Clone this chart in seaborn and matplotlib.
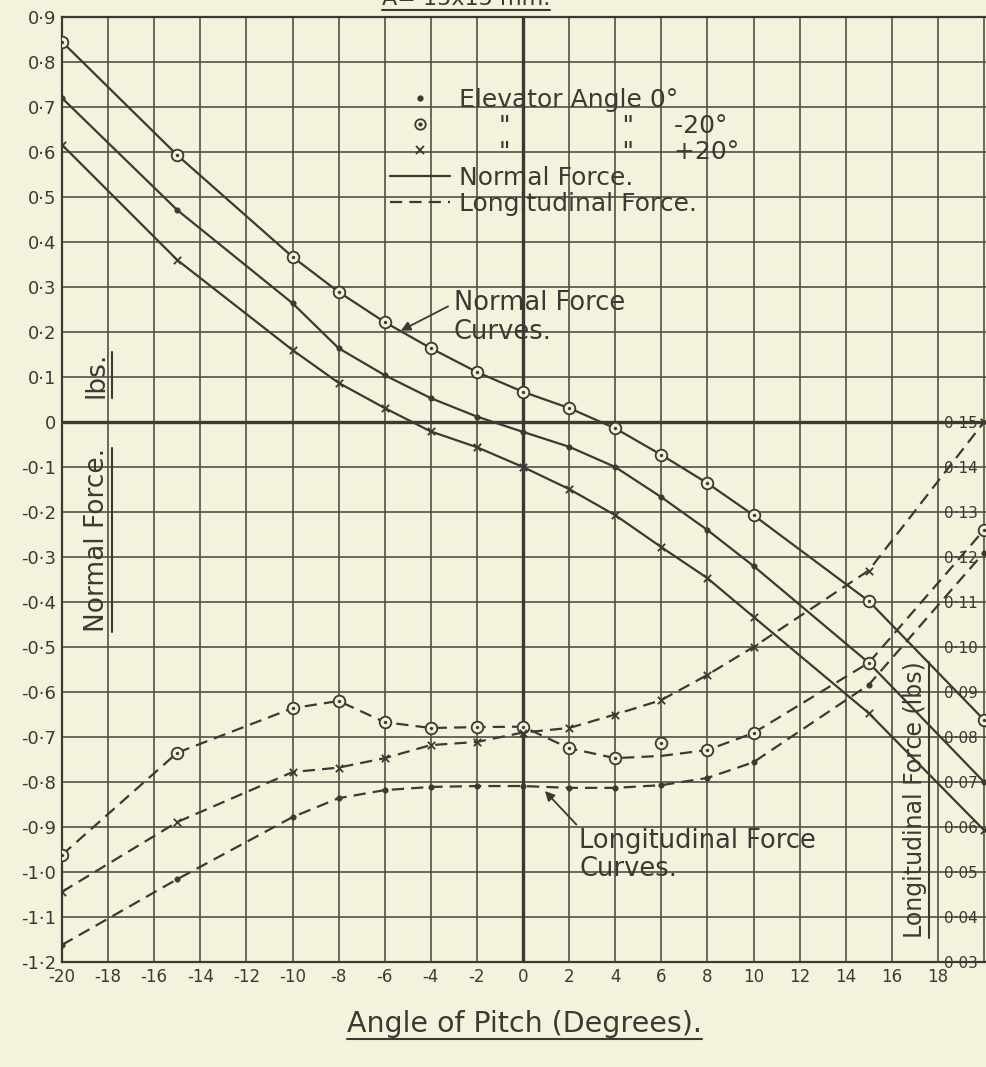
import numpy as np
import pandas as pd
import matplotlib.pyplot as plt
import seaborn as sns
from matplotlib.lines import Line2D

pitch = [-20, -15, -10, -8, -6, -4, -2, 0, 2, 4, 6, 8, 10, 15, 20]

# normal force (lbs) for each elevator angle
normal_0 = [0.72, 0.471, 0.264, 0.164, 0.104, 0.053, 0.012, -0.022, -0.055,
            -0.10, -0.167, -0.24, -0.32, -0.535, -0.80]
normal_m20 = [0.845, 0.593, 0.367, 0.289, 0.222, 0.164, 0.111, 0.067, 0.031,
              -0.014, -0.073, -0.136, -0.207, -0.398, -0.662]
normal_p20 = [0.616, 0.36, 0.16, 0.087, 0.031, -0.021, -0.056, -0.10, -0.149,
              -0.207, -0.278, -0.347, -0.433, -0.647, -0.907]

# longitudinal force (lbs, right hand scale)
long_0 = [0.0338, 0.0484, 0.0622, 0.0664, 0.0682, 0.0689, 0.0691, 0.0691,
          0.0687, 0.0687, 0.0693, 0.0709, 0.0744, 0.0916, 0.121]
long_m20 = [0.0538, 0.0765, 0.0864, 0.0880, 0.0833, 0.0820, 0.0822, 0.0823,
            0.0775, 0.0753, 0.0787, 0.0771, 0.0809, 0.0965, 0.126]
# the faired curve for -20 deg misses the +6 deg point
long_m20_curve = [0.0538, 0.0765, 0.0864, 0.0880, 0.0833, 0.0820, 0.0822, 0.0823,
                  0.0775, 0.0753, 0.0758, 0.0771, 0.0809, 0.0965, 0.126]
long_p20 = [0.0456, 0.0611, 0.0722, 0.0732, 0.0753, 0.0782, 0.0789, 0.081,
            0.082, 0.085, 0.0882, 0.0938, 0.100, 0.117, 0.150]

# tick labels
x_ticks = [-20, -18, -16, -14, -12, -10, -8, -6, -4, -2, 0, 2, 4, 6, 8, 10, 12, 14, 16, 18, 20]
x_tick_labels = ['-20', '-18', '-16', '-14', '-12', '-10', '-8', '-6', '-4', '-2', '0',
                 '2', '4', '6', '8', '10', '12', '14', '16', '18', '']
y_ticks = [0.9, 0.8, 0.7, 0.6, 0.5, 0.4, 0.3, 0.2, 0.1, 0.0, -0.1, -0.2, -0.3, -0.4,
           -0.5, -0.6, -0.7, -0.8, -0.9, -1.0, -1.1, -1.2]
y_tick_labels = ['0·9', '0·8', '0·7', '0·6', '0·5', '0·4', '0·3', '0·2', '0·1', '0',
                 '-0·1', '-0·2', '-0·3', '-0·4', '-0·5', '-0·6', '-0·7', '-0·8', '-0·9',
                 '-1·0', '-1·1', '-1·2']
long_ticks = [0.15, 0.14, 0.13, 0.12, 0.11, 0.10, 0.09, 0.08, 0.07, 0.06, 0.05, 0.04, 0.03]
long_tick_labels = ['0·15', '0·14', '0·13', '0·12', '0·11', '0·10', '0·09', '0·08',
                    '0·07', '0·06', '0·05', '0·04', '0·03']

paper = '#f4f2dc'
ink = '#3a3a33'
grid_ink = '#505048'
dash = (0, (5.5, 3.2))

sns.set_theme(style='white', rc={'axes.facecolor': paper, 'figure.facecolor': paper})
plt.rcParams['font.family'] = ['DejaVu Sans']

fig = plt.figure(figsize=(9.87, 10.67), dpi=100)
ax = fig.add_axes([62 / 987, 105 / 1067, 925 / 987, 945 / 1067])
ax.set_xlim(-20, 20.13)
ax.set_ylim(-1.2, 0.9)

ax.set_xticks(x_ticks)
ax.set_xticklabels(x_tick_labels, fontsize=12, color=ink)
ax.set_yticks(y_ticks)
ax.set_yticklabels(y_tick_labels, fontsize=13, color=ink)
ax.tick_params(length=0, pad=4)
ax.grid(True, color=grid_ink, lw=1.2)
ax.set_axisbelow(True)
ax.axhline(0, color=ink, lw=2.4, zorder=1.5)
ax.axvline(0, color=ink, lw=2.4, zorder=1.5)
for side in ['left', 'bottom', 'top']:
    ax.spines[side].set_color(ink)
    ax.spines[side].set_linewidth(1.6)
ax.spines['right'].set_visible(False)

# normal force curves (solid)
for vals in [normal_m20, normal_0, normal_p20]:
    sns.lineplot(x=pitch, y=vals, ax=ax, color=ink, lw=1.6, estimator=None,
                 sort=False, legend=False)

sns.scatterplot(x=pitch, y=normal_0, ax=ax, marker='o', s=16, color=ink,
                edgecolor=ink, zorder=4)
sns.scatterplot(x=pitch, y=normal_m20, ax=ax, marker='o', s=70, facecolor=paper,
                edgecolor=ink, linewidth=1.3, zorder=4)
sns.scatterplot(x=pitch, y=normal_m20, ax=ax, marker='o', s=5, color=ink,
                edgecolor=ink, zorder=5)
sns.scatterplot(x=pitch, y=normal_p20, ax=ax, marker='x', s=28, color=ink,
                linewidth=1.3, zorder=4)

# longitudinal force curves (dashed) on the right hand scale
ax2 = ax.twinx()
ax2.set_ylim(0.03, 0.24)
ax2.set_yticks(long_ticks)
ax2.set_yticklabels(long_tick_labels, fontsize=11, color=ink)
ax2.tick_params(axis='y', length=0, pad=-31)
ax2.grid(False)
for s in ax2.spines.values():
    s.set_visible(False)

for vals in [long_m20_curve, long_0, long_p20]:
    sns.lineplot(x=pitch, y=vals, ax=ax2, color=ink, lw=1.6, linestyle=dash,
                 estimator=None, sort=False, legend=False)

sns.scatterplot(x=pitch, y=long_0, ax=ax2, marker='o', s=16, color=ink,
                edgecolor=ink, zorder=4)
sns.scatterplot(x=pitch, y=long_m20, ax=ax2, marker='o', s=70, facecolor=paper,
                edgecolor=ink, linewidth=1.3, zorder=4)
sns.scatterplot(x=pitch, y=long_m20, ax=ax2, marker='o', s=5, color=ink,
                edgecolor=ink, zorder=5)
sns.scatterplot(x=pitch, y=long_p20, ax=ax2, marker='x', s=28, color=ink,
                linewidth=1.3, zorder=4)

# key
h_dot = Line2D([], [], ls='none', marker='o', ms=3.5, color=ink)
h_ring = (Line2D([], [], ls='none', marker='o', ms=7.5, mfc='none', mec=ink, mew=1.3),
          Line2D([], [], ls='none', marker='o', ms=2, color=ink))
h_cross = Line2D([], [], ls='none', marker='x', ms=6, mew=1.3, color=ink)
h_solid = Line2D([], [], color=ink, lw=1.6)
h_dash = Line2D([], [], color=ink, lw=1.6, ls=dash)
labels = ['Elevator Angle 0°',
          '     "              "     -20°',
          '     "              "     +20°',
          'Normal Force.',
          'Longitudinal Force.']
leg = ax2.legend([h_dot, h_ring, h_cross, h_solid, h_dash], labels, loc='upper left',
                 bbox_to_anchor=(0.355, 0.925), frameon=False, fontsize=18,
                 handlelength=2.4, handletextpad=0.35, labelspacing=0.08,
                 borderpad=0, borderaxespad=0)
for t in leg.get_texts():
    t.set_color(ink)

ax.annotate('Normal Force\nCurves.', xy=(-5.3, 0.203), xytext=(-3.0, 0.233),
            ha='left', va='center', fontsize=18.5, color=ink, linespacing=1.15,
            arrowprops=dict(arrowstyle='-|>', color=ink, lw=1.3, relpos=(0, 0.75),
                            shrinkA=2, shrinkB=0, mutation_scale=14))
ax.annotate('Longitudinal Force\nCurves.', xy=(0.95, -0.82), xytext=(2.45, -0.962),
            ha='left', va='center', fontsize=18.5, color=ink, linespacing=1.1,
            arrowprops=dict(arrowstyle='-|>', color=ink, lw=1.3, relpos=(0, 1),
                            shrinkA=0, shrinkB=0, mutation_scale=14))

# axis titles written on the sheet
t_norm = ax.text(-18.5, -0.262, 'Normal Force.', rotation=90, ha='center',
                 va='center', fontsize=19, color=ink)
t_lbs = ax.text(-18.5, 0.104, 'lbs.', rotation=90, ha='center', va='center',
                fontsize=19, color=ink)
t_long = ax.text(17.0, -0.84, 'Longitudinal Force (lbs)', rotation=90, ha='center',
                 va='center', fontsize=17, color=ink)
ax.set_xlabel('Angle of Pitch (Degrees).', fontsize=20.5, color=ink)
ax.xaxis.set_label_coords(0.50, -0.051)
t_title = fig.text(466 / 987, 1 - 5 / 1067, 'A= 15x15 mm.', ha='center',
                   va='baseline', fontsize=16, color=ink)

# hand drawn underlines beneath the lettering
fig.canvas.draw()
renderer = fig.canvas.get_renderer()
to_fig = fig.transFigure.inverted()


def underline(txt, vertical=False, gap=2):
    bb = txt.get_window_extent(renderer)
    if vertical:
        pts = to_fig.transform([[bb.x1 + gap, bb.y0], [bb.x1 + gap, bb.y1]])
    else:
        pts = to_fig.transform([[bb.x0, bb.y0 - gap], [bb.x1, bb.y0 - gap]])
    fig.add_artist(Line2D(pts[:, 0], pts[:, 1], color=ink, lw=1.5))


underline(t_norm, vertical=True)
underline(t_lbs, vertical=True)
underline(t_long, vertical=True)
underline(ax.xaxis.label, gap=1)
underline(t_title, gap=1)

fig.savefig('out.png', dpi=100, facecolor=paper)
